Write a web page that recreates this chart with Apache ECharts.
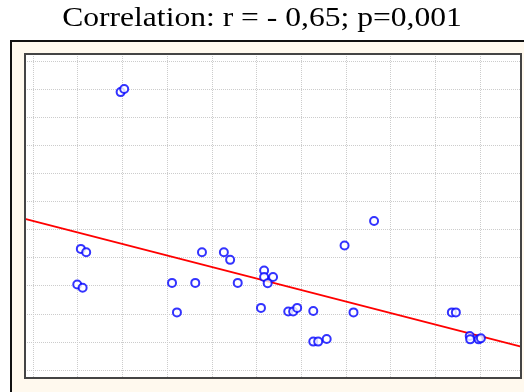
<!DOCTYPE html>
<html>
<head>
<meta charset="utf-8">
<script src="https://cdn.jsdelivr.net/npm/echarts@6/dist/echarts.min.js"></script>
<style>
html,body{margin:0;padding:0;background:#fff;}
#chart{width:524px;height:392px;}
</style>
</head>
<body>
<div id="chart"></div>
<script>
// Data (grid units: one vertical grid step = 1 on x, one horizontal grid step = 1 on y)
const titleText = 'Correlation: r = - 0,65; p=0,001';
const xValues = [1.96, 2.04, 1.07, 1.19, 0.99, 1.11, 3.78, 4.27, 4.41, 3.11, 3.63, 4.58, 3.22,
  5.17, 5.17, 5.37, 5.25, 5.10, 5.71, 5.82, 5.91, 6.27, 7.17, 6.27, 6.38, 6.57, 7.63, 6.97,
  9.37, 9.46, 9.77, 9.78, 9.97, 10.02];
const yValues = [9.89, 10.00, 4.31, 4.19, 3.04, 2.93, 4.19, 4.19, 3.92, 3.10, 3.10, 3.10, 2.05,
  3.54, 3.31, 3.31, 3.09, 2.21, 2.08, 2.08, 2.21, 2.10, 2.05, 1.01, 1.01, 1.10, 5.30, 4.43,
  2.05, 2.05, 1.21, 1.09, 1.09, 1.13];
const lineX = [-0.179, 10.917];
const lineY = [5.375, 0.829];
const xRange = [-0.179, 10.917];
const yRange = [-0.285, 11.246];
const vGridCount = 10; // vertical grid steps
const hGridCount = 11; // horizontal grid steps

const chart = echarts.init(document.getElementById('chart'), null, {renderer: 'canvas'});
const points = xValues.map((x, i) => [x, yValues[i]]);
const linePts = lineX.map((x, i) => [x, lineY[i]]);
const dotted = {color: '#cccccc', width: 1, type: [1, 1]};

chart.setOption({
  backgroundColor: '#ffffff',
  animation: false,
  graphic: [
    {type: 'rect', z: -20, shape: {x: 11, y: 41, width: 540, height: 400},
     style: {fill: '#FFF9EE', stroke: '#111', lineWidth: 2}},
    {type: 'rect', z: -10, shape: {x: 25, y: 54, width: 496, height: 324},
     style: {fill: '#ffffff', stroke: null}},
    {type: 'rect', z: 100, silent: true, shape: {x: 25, y: 54, width: 496, height: 324},
     style: {fill: null, stroke: '#444', lineWidth: 2}},
    {type: 'text', z: 100, x: 262, y: 5, scaleX: 1.17, scaleY: 1,
     style: {text: titleText, fill: '#000', font: '27px "Liberation Serif"',
             align: 'center', verticalAlign: 'top'}}
  ],
  grid: [
    {left: 25, top: 54, width: 496, height: 324, show: false},
    {left: 33, top: 54, width: 447, height: 324, show: false},
    {left: 25, top: 61, width: 496, height: 309, show: false}
  ],
  xAxis: [
    {gridIndex: 0, type: 'value', min: xRange[0], max: xRange[1], show: false},
    {gridIndex: 1, type: 'value', min: 0, max: vGridCount, interval: 1,
     axisLine: {show: false}, axisTick: {show: false}, axisLabel: {show: false},
     splitLine: {show: true, lineStyle: dotted}},
    {gridIndex: 2, type: 'value', min: 0, max: 1, show: false, splitLine: {show: false}}
  ],
  yAxis: [
    {gridIndex: 0, type: 'value', min: yRange[0], max: yRange[1], show: false},
    {gridIndex: 1, type: 'value', min: 0, max: 1, show: false, splitLine: {show: false}},
    {gridIndex: 2, type: 'value', min: 0, max: hGridCount, interval: 1,
     axisLine: {show: false}, axisTick: {show: false}, axisLabel: {show: false},
     splitLine: {show: true, lineStyle: dotted}}
  ],
  series: [
    {type: 'line', xAxisIndex: 0, yAxisIndex: 0, data: linePts, showSymbol: false,
     lineStyle: {color: '#ff0000', width: 1.8}, z: 3},
    {type: 'scatter', xAxisIndex: 0, yAxisIndex: 0, data: points, symbol: 'emptyCircle',
     symbolSize: 8, itemStyle: {color: '#0000ff', borderColor: '#0000ff', borderWidth: 2.6}, z: 4}
  ]
});
</script>
</body>
</html>
